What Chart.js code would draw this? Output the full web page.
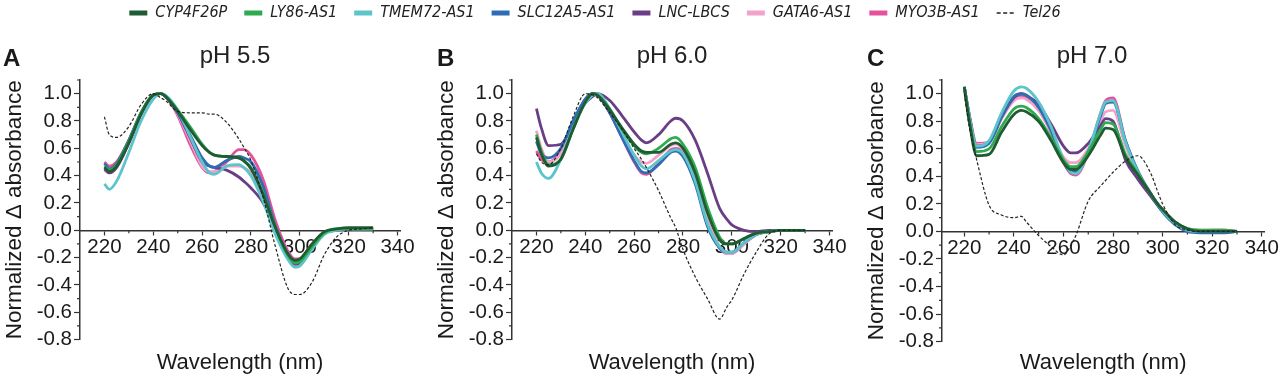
<!DOCTYPE html>
<html>
<head>
<meta charset="utf-8">
<script src="https://cdn.jsdelivr.net/npm/chart.js@4.4.1/dist/chart.umd.min.js"></script>
<style>
  body { margin: 0; background: #fff; width: 1280px; height: 377px; overflow: hidden; position: relative;
         font-family: "Liberation Sans", Arial, sans-serif; color: #1a1a1a; }
  canvas { position: absolute; }
  .letter { position: absolute; font-weight: bold; font-size: 24px; line-height: 1; }
  .ptitle { position: absolute; font-size: 24px; line-height: 1; transform: translateX(-50%); white-space: nowrap; color: #222; }
</style>
</head>
<body>
<canvas id="legend" width="1190" height="120" style="left:0;top:-12px"></canvas>

<div class="letter" style="left:3px;top:46px">A</div>
<div class="ptitle" style="left:235px;top:43px">pH 5.5</div>
<canvas id="chartA" width="430" height="347" style="left:0;top:30px"></canvas>

<div class="letter" style="left:437px;top:46px">B</div>
<div class="ptitle" style="left:672px;top:43px">pH 6.0</div>
<canvas id="chartB" width="430" height="347" style="left:432px;top:30px"></canvas>

<div class="letter" style="left:867px;top:46px">C</div>
<div class="ptitle" style="left:1092px;top:43px">pH 7.0</div>
<canvas id="chartC" width="418" height="347" style="left:862px;top:30px"></canvas>

<script>
// wavelength grid (nm) shared by every curve
const wavelength = [220, 222, 225, 230, 235, 240, 243, 245, 250, 255, 260, 263, 265, 270, 275, 277, 280, 285, 290, 295, 298, 300, 305, 310, 315, 320, 325, 330];

const seriesNames = ['CYP4F26P', 'LY86-AS1', 'TMEM72-AS1', 'SLC12A5-AS1', 'LNC-LBCS', 'GATA6-AS1', 'MYO3B-AS1', 'Tel26'];
const seriesColors = ['#1f5c33', '#2eaa4f', '#5ec4cb', '#2e6cb5', '#6a3e86', '#f3a3ca', '#e4529b', '#222222'];

const xTicks = [220, 240, 260, 280, 300, 320, 340];
const xMinor = [230, 250, 270, 290, 310, 330];
const yTicks = [-0.8, -0.6, -0.4, -0.2, 0.0, 0.2, 0.4, 0.6, 0.8, 1.0];
const yMinor = [-0.7, -0.5, -0.3, -0.1, 0.1, 0.3, 0.5, 0.7, 0.9, 1.1];

// pH 5.5
const cyp_55  = [0.46, 0.43, 0.47, 0.64, 0.85, 0.99, 1.00, 0.98, 0.87, 0.74, 0.62, 0.57, 0.55, 0.54, 0.53, 0.51, 0.45, 0.26, 0.02, -0.17, -0.22, -0.21, -0.10, -0.01, 0.01, 0.02, 0.02, 0.02];
const ly86_55 = [0.47, 0.44, 0.48, 0.65, 0.86, 0.99, 1.00, 0.98, 0.88, 0.76, 0.63, 0.57, 0.55, 0.54, 0.53, 0.51, 0.46, 0.27, 0.02, -0.18, -0.24, -0.23, -0.12, -0.02, 0.01, 0.01, 0.01, 0.01];
const tmem_55 = [0.34, 0.30, 0.36, 0.57, 0.80, 0.96, 1.00, 0.99, 0.88, 0.69, 0.50, 0.42, 0.41, 0.47, 0.48, 0.46, 0.40, 0.21, -0.03, -0.21, -0.27, -0.26, -0.14, -0.03, 0.00, 0.01, 0.01, 0.01];
const slc_55  = [0.49, 0.45, 0.49, 0.66, 0.86, 0.99, 1.00, 0.98, 0.86, 0.70, 0.53, 0.47, 0.46, 0.51, 0.54, 0.53, 0.50, 0.32, 0.03, -0.17, -0.23, -0.22, -0.11, -0.02, 0.00, 0.01, 0.01, 0.01];
const lnc_55  = [0.45, 0.42, 0.46, 0.64, 0.85, 0.99, 1.00, 0.98, 0.86, 0.68, 0.50, 0.47, 0.46, 0.44, 0.39, 0.36, 0.31, 0.20, 0.01, -0.19, -0.25, -0.24, -0.12, -0.02, 0.00, 0.01, 0.01, 0.01];
const gata_55 = [0.44, 0.42, 0.46, 0.64, 0.85, 0.99, 1.00, 0.98, 0.85, 0.66, 0.47, 0.43, 0.43, 0.47, 0.47, 0.46, 0.42, 0.24, 0.00, -0.20, -0.27, -0.26, -0.13, -0.02, 0.00, 0.01, 0.01, 0.01];
const myo_55  = [0.50, 0.47, 0.50, 0.66, 0.86, 0.99, 1.00, 0.98, 0.84, 0.63, 0.46, 0.42, 0.43, 0.50, 0.59, 0.59, 0.55, 0.37, 0.07, -0.15, -0.21, -0.21, -0.10, -0.02, 0.00, 0.01, 0.01, 0.01];
const tel_55  = [0.83, 0.70, 0.68, 0.76, 0.92, 1.00, 0.97, 0.95, 0.87, 0.86, 0.86, 0.85, 0.85, 0.79, 0.67, 0.61, 0.51, 0.24, -0.12, -0.42, -0.47, -0.47, -0.38, -0.18, -0.05, 0.00, 0.01, 0.02];

// pH 6.0
const cyp_60  = [0.68, 0.56, 0.47, 0.52, 0.74, 0.94, 1.00, 0.99, 0.88, 0.75, 0.63, 0.58, 0.57, 0.57, 0.63, 0.64, 0.60, 0.42, 0.13, -0.07, -0.10, -0.10, -0.06, -0.02, -0.01, 0.00, 0.00, 0.00];
const ly86_60 = [0.70, 0.58, 0.48, 0.52, 0.74, 0.94, 1.00, 0.99, 0.89, 0.74, 0.62, 0.57, 0.56, 0.60, 0.67, 0.68, 0.63, 0.46, 0.17, -0.05, -0.10, -0.10, -0.06, -0.02, -0.01, 0.00, 0.00, 0.00];
const tmem_60 = [0.50, 0.42, 0.38, 0.52, 0.75, 0.93, 0.99, 1.00, 0.89, 0.72, 0.55, 0.47, 0.45, 0.51, 0.58, 0.59, 0.56, 0.36, 0.05, -0.12, -0.16, -0.16, -0.09, -0.03, -0.01, 0.00, 0.00, 0.00];
const slc_60  = [0.65, 0.56, 0.53, 0.60, 0.80, 0.96, 1.00, 0.99, 0.86, 0.68, 0.51, 0.43, 0.42, 0.48, 0.57, 0.58, 0.54, 0.34, 0.03, -0.13, -0.16, -0.16, -0.09, -0.03, -0.01, 0.00, 0.00, 0.00];
const lnc_60  = [0.89, 0.75, 0.62, 0.63, 0.78, 0.93, 0.98, 1.00, 0.95, 0.84, 0.72, 0.66, 0.64, 0.70, 0.80, 0.82, 0.80, 0.66, 0.42, 0.16, 0.08, 0.04, 0.00, -0.01, 0.00, 0.00, 0.00, 0.00];
const gata_60 = [0.73, 0.60, 0.50, 0.56, 0.78, 0.95, 1.00, 0.99, 0.87, 0.70, 0.55, 0.50, 0.49, 0.55, 0.62, 0.63, 0.59, 0.40, 0.09, -0.12, -0.17, -0.17, -0.10, -0.03, -0.01, 0.00, 0.00, 0.00];
const myo_60  = [0.58, 0.52, 0.50, 0.58, 0.79, 0.96, 1.00, 0.99, 0.86, 0.68, 0.50, 0.42, 0.41, 0.49, 0.59, 0.60, 0.57, 0.38, 0.07, -0.13, -0.17, -0.17, -0.10, -0.03, -0.01, 0.00, 0.00, 0.00];
const tel_60  = [0.56, 0.50, 0.48, 0.60, 0.83, 1.00, 0.99, 0.97, 0.86, 0.74, 0.60, 0.52, 0.46, 0.29, 0.09, 0.02, -0.14, -0.34, -0.50, -0.65, -0.56, -0.51, -0.32, -0.16, -0.03, 0.00, 0.00, 0.00];

// pH 7.0
const cyp_70  = [1.05, 0.80, 0.55, 0.56, 0.72, 0.85, 0.88, 0.87, 0.80, 0.66, 0.50, 0.45, 0.45, 0.55, 0.70, 0.75, 0.74, 0.54, 0.41, 0.28, 0.20, 0.16, 0.07, 0.02, 0.00, 0.00, 0.00, 0.00];
const ly86_70 = [1.05, 0.81, 0.58, 0.60, 0.76, 0.89, 0.91, 0.90, 0.82, 0.68, 0.52, 0.47, 0.47, 0.58, 0.74, 0.79, 0.78, 0.56, 0.42, 0.28, 0.20, 0.16, 0.07, 0.02, 0.01, 0.01, 0.01, 0.00];
const tmem_70 = [1.05, 0.84, 0.62, 0.66, 0.86, 1.02, 1.05, 1.04, 0.94, 0.76, 0.52, 0.43, 0.42, 0.58, 0.86, 0.94, 0.95, 0.65, 0.43, 0.28, 0.20, 0.15, 0.06, 0.01, 0.00, 0.00, 0.00, 0.00];
const slc_70  = [1.05, 0.84, 0.61, 0.64, 0.83, 0.98, 1.00, 0.99, 0.90, 0.73, 0.51, 0.43, 0.43, 0.58, 0.84, 0.93, 0.94, 0.66, 0.44, 0.28, 0.19, 0.14, 0.05, 0.00, -0.01, -0.01, -0.01, 0.00];
const lnc_70  = [1.05, 0.84, 0.62, 0.65, 0.83, 0.97, 1.00, 0.99, 0.92, 0.78, 0.62, 0.57, 0.57, 0.64, 0.77, 0.82, 0.80, 0.52, 0.38, 0.26, 0.19, 0.15, 0.06, 0.01, 0.00, 0.00, 0.00, 0.00];
const gata_70 = [1.05, 0.85, 0.63, 0.65, 0.82, 0.95, 0.97, 0.96, 0.88, 0.72, 0.54, 0.50, 0.50, 0.60, 0.80, 0.87, 0.88, 0.62, 0.42, 0.28, 0.20, 0.16, 0.07, 0.02, 0.01, 0.01, 0.01, 0.00];
const myo_70  = [1.05, 0.85, 0.64, 0.65, 0.82, 0.96, 0.98, 0.97, 0.88, 0.72, 0.50, 0.42, 0.41, 0.57, 0.86, 0.95, 0.97, 0.66, 0.43, 0.28, 0.20, 0.15, 0.06, 0.01, 0.00, 0.01, 0.01, 0.00];
const tel_70  = [1.00, 0.76, 0.52, 0.19, 0.12, 0.10, 0.11, 0.07, -0.03, -0.11, -0.17, -0.10, -0.03, 0.22, 0.33, 0.37, 0.43, 0.51, 0.55, 0.43, 0.29, 0.20, 0.05, 0.01, 0.00, 0.00, 0.00, 0.00];

const fontMain = '"Liberation Sans", Arial, sans-serif';
const axisColor = '#333';

// small ticks between the labelled ones
const minorTicks = {
    id: 'minorTicks',
    beforeDatasetsDraw(chart) {
        const { ctx, scales: { x, y } } = chart;
        const y0 = y.getPixelForValue(0);
        ctx.save();
        ctx.strokeStyle = axisColor;
        ctx.lineWidth = 1.2;
        ctx.beginPath();
        xMinor.forEach(v => {
            const px = x.getPixelForValue(v);
            ctx.moveTo(px, y0);
            ctx.lineTo(px, y0 + 3);
        });
        yMinor.forEach(v => {
            const py = y.getPixelForValue(v);
            ctx.moveTo(y.right, py);
            ctx.lineTo(y.right - 3, py);
        });
        ctx.stroke();
        ctx.restore();
    }
};

function makeDatasets(series) {
    return series.map((vals, i) => {
        const isRef = i === seriesNames.length - 1;
        return {
            label: seriesNames[i],
            data: vals.map((v, k) => ({ x: wavelength[k], y: v })),
            borderColor: seriesColors[i],
            backgroundColor: seriesColors[i],
            borderWidth: isRef ? 1.2 : 2.8,
            borderDash: isRef ? [3, 2] : [],
            pointRadius: 0,
            cubicInterpolationMode: 'monotone',
            order: isRef ? -1 : i
        };
    });
}

function makePanel(id, series, xmin, xmax, padRight, xTitlePad) {
    new Chart(document.getElementById(id), {
        type: 'line',
        data: { datasets: makeDatasets(series) },
        plugins: [minorTicks],
        options: {
            responsive: false,
            animation: false,
            layout: { padding: { top: 50, right: padRight, left: 0, bottom: 0 } },
            plugins: { legend: { display: false }, tooltip: { enabled: false } },
            scales: {
                x: {
                    type: 'linear',
                    position: { y: 0 },
                    min: xmin,
                    max: xmax,
                    afterBuildTicks: s => { s.ticks = xTicks.map(v => ({ value: v })); },
                    ticks: { font: { family: fontMain, size: 20.5 }, color: '#1a1a1a', padding: 1, maxRotation: 0, autoSkip: false },
                    grid: { drawOnChartArea: false, tickLength: 4, tickColor: axisColor, tickWidth: 1.2 },
                    border: { color: axisColor, width: 1.5 }
                },
                x2: {
                    type: 'linear',
                    position: 'bottom',
                    ticks: { display: false },
                    grid: { display: false, drawTicks: false },
                    border: { display: false },
                    title: { display: true, text: 'Wavelength (nm)', font: { family: fontMain, size: 22 }, color: '#1a1a1a', padding: xTitlePad }
                },
                y: {
                    min: -0.8,
                    max: 1.1,
                    afterBuildTicks: s => { s.ticks = yTicks.map(v => ({ value: v })); },
                    afterFit: s => { s.width = 80; },
                    ticks: { font: { family: fontMain, size: 20.5 }, color: '#1a1a1a', padding: 2, callback: v => v.toFixed(1) },
                    grid: { drawOnChartArea: false, tickLength: 6, tickColor: axisColor, tickWidth: 1.2 },
                    border: { color: axisColor, width: 1.5 },
                    title: { display: true, text: 'Normalized \u0394 absorbance', font: { family: fontMain, size: 22.5 }, color: '#1a1a1a', padding: { top: 1, bottom: 0 } }
                }
            }
        }
    });
}

makePanel('chartA', [cyp_55, ly86_55, tmem_55, slc_55, lnc_55, gata_55, myo_55, tel_55], 210, 341, 30, { top: 10, bottom: 1 });
makePanel('chartB', [cyp_60, ly86_60, tmem_60, slc_60, lnc_60, gata_60, myo_60, tel_60], 210, 341, 30, { top: 10, bottom: 1 });
makePanel('chartC', [cyp_70, ly86_70, tmem_70, slc_70, lnc_70, gata_70, myo_70, tel_70], 211, 341, 12, { top: 8, bottom: 1 });

// shared legend on its own canvas
new Chart(document.getElementById('legend'), {
    type: 'line',
    data: {
        datasets: seriesNames.map((name, i) => ({
            label: name,
            data: [],
            borderColor: seriesColors[i],
            borderWidth: i === 7 ? 1.5 : 5,
            borderDash: i === 7 ? [4, 2.5] : []
        }))
    },
    options: {
        responsive: false,
        animation: false,
        layout: { padding: 0 },
        scales: { x: { display: false }, y: { display: false } },
        plugins: {
            tooltip: { enabled: false },
            legend: {
                display: true,
                position: 'top',
                labels: {
                    usePointStyle: true,
                    pointStyleWidth: 18,
                    boxHeight: 5,
                    padding: 17,
                    color: '#222',
                    font: { family: '"Liberation Sans Narrow", "DejaVu Sans Condensed", Arial, sans-serif', size: 16, style: 'italic' },
                    generateLabels: chart => chart.data.datasets.map((ds, i) => ({
                        text: ds.label,
                        fillStyle: ds.borderColor,
                        strokeStyle: ds.borderColor,
                        lineWidth: ds.borderWidth,
                        lineDash: ds.borderDash,
                        lineCap: 'butt',
                        pointStyle: 'line',
                        fontColor: '#222',
                        hidden: false,
                        datasetIndex: i
                    }))
                }
            }
        }
    }
});
</script>
</body>
</html>
